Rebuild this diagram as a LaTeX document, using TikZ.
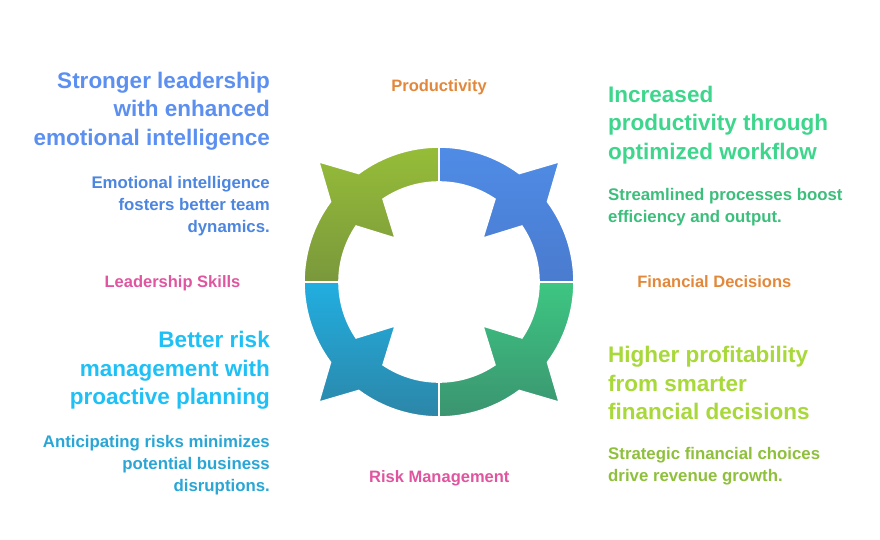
\documentclass[tikz,border=0pt]{standalone}
\usepackage{fontspec}
\setmainfont{Liberation Sans}
\definecolor{q1t}{HTML}{4F8CE6}\definecolor{q1b}{HTML}{4A7BCF}
\definecolor{q2t}{HTML}{96BD38}\definecolor{q2b}{HTML}{7A983C}
\definecolor{q3t}{HTML}{21AEE0}\definecolor{q3b}{HTML}{2C86A8}
\definecolor{q4t}{HTML}{3DC682}\definecolor{q4b}{HTML}{3B9470}
\definecolor{hblue}{HTML}{5B8FF0}\definecolor{dblue}{HTML}{4D86E0}
\definecolor{hgreen}{HTML}{3DD68C}\definecolor{dgreen}{HTML}{3CBF7C}
\definecolor{hcyan}{HTML}{1EC0F5}\definecolor{dcyan}{HTML}{2AA6D6}
\definecolor{hlime}{HTML}{A8D83A}\definecolor{dlime}{HTML}{8FC03C}
\definecolor{lpink}{HTML}{E0559F}\definecolor{lorange}{HTML}{E3883A}
\newcommand{\ringquad}[1]{(#1:135) arc[start angle=#1, end angle=#1+36.5, radius=135] -- (#1+45:170) -- (#1+53.5:135) arc[start angle=#1+53.5, end angle=#1+90, radius=135] -- (#1+90:100) arc[start angle=#1+90, end angle=#1+56, radius=100] -- (#1+45:62) -- (#1+34:100) arc[start angle=#1+34, end angle=#1, radius=100] -- cycle}
\begin{document}
\begin{tikzpicture}[x=1pt,y=1pt,
  head/.style={inner sep=0pt, font=\bfseries\fontsize{22.5}{28.5}\selectfont},
  desc/.style={inner sep=0pt, font=\bfseries\fontsize{16.8}{22}\selectfont},
  lbl/.style={inner sep=0pt, font=\bfseries\fontsize{16.5}{20}\selectfont, anchor=base},
  seg/.style={draw=white, line width=1.6pt, line join=miter}]
\useasboundingbox[fill=white] (0,0) rectangle (880,-540);
\begin{scope}[shift={(439,-282)}]
  \shade[seg, top color=q1t, bottom color=q1b] \ringquad{0};
  \shade[seg, top color=q2t, bottom color=q2b] \ringquad{90};
  \shade[seg, top color=q3t, bottom color=q3b] \ringquad{180};
  \shade[seg, top color=q4t, bottom color=q4b] \ringquad{270};
\end{scope}
% labels
\node[lbl, text=lorange] (lprod) at (439,-91.7) {Productivity};
\node[lbl, text=lpink] (llead) at (172.5,-287.3) {Leadership Skills};
\node[lbl, text=lorange] (lfin) at (714.3,-287.7) {Financial Decisions};
\node[lbl, text=lpink] (lrisk) at (439.3,-482.3) {Risk Management};
% left top
\node[head, text=hblue, align=right, anchor=north east] (h1) at (270,-71.6) {Stronger leadership\\with enhanced\\emotional intelligence};
\node[desc, text=dblue, align=right, anchor=north east] (d1) at (270,-176) {Emotional intelligence\\fosters better team\\dynamics.};
% right top
\node[head, text=hgreen, align=left, anchor=north west] (h2) at (608,-85.9) {Increased\\productivity through\\optimized workflow};
\node[desc, text=dgreen, align=left, anchor=north west] (d2) at (608,-188.4) {Streamlined processes boost\\efficiency and output.};
% left bottom
\node[head, text=hcyan, align=right, anchor=north east] (h3) at (270,-331.3) {Better risk\\management with\\proactive planning};
\node[desc, text=dcyan, align=right, anchor=north east] (d3) at (270,-435.4) {Anticipating risks minimizes\\potential business\\disruptions.};
% right bottom
\node[head, text=hlime, align=left, anchor=north west] (h4) at (608,-346.3) {Higher profitability\\from smarter\\financial decisions};
\node[desc, text=dlime, align=left, anchor=north west] (d4) at (608,-446.7) {Strategic financial choices\\drive revenue growth.};
\end{tikzpicture}
\end{document}
